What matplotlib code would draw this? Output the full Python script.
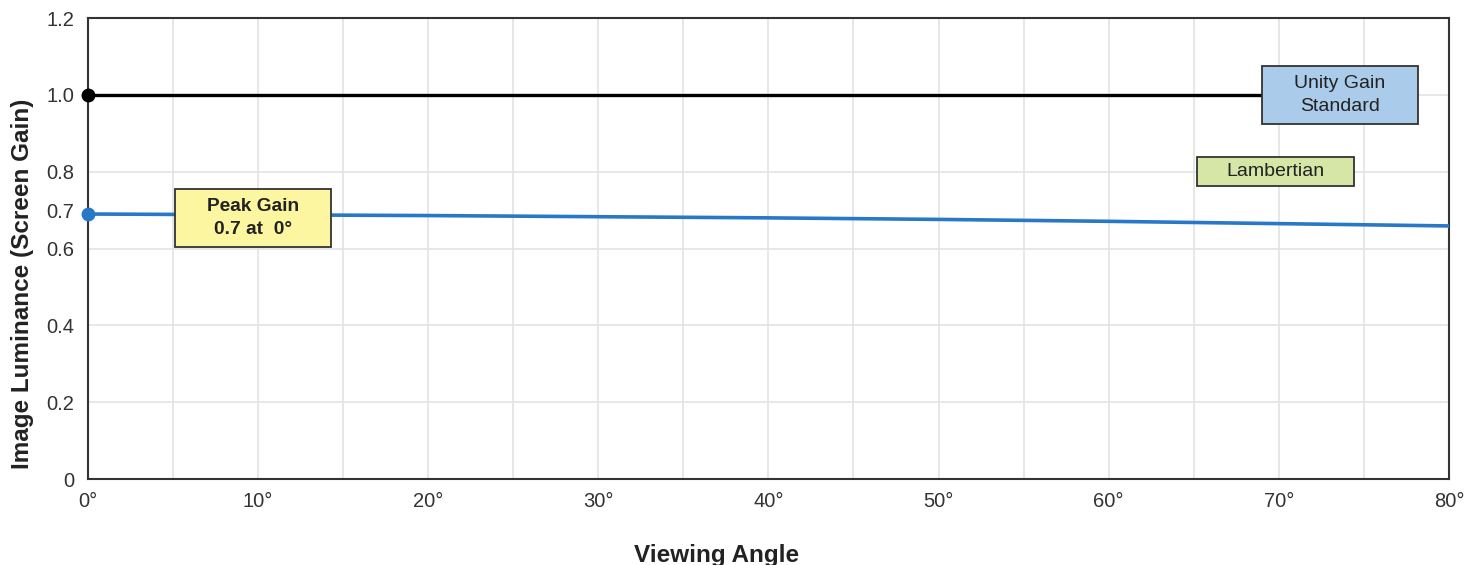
import matplotlib

matplotlib.use("Agg")

import matplotlib.pyplot as plt
from matplotlib.patches import Rectangle

plt.rcParams["font.family"] = ["Liberation Sans", "DejaVu Sans"]

# screen gain curve (degrees -> gain)
angles = [0, 10, 20, 30, 40, 50, 60, 70, 80]
gain = [0.690, 0.688, 0.686, 0.683, 0.680, 0.676, 0.671, 0.665, 0.659]

unity_angles = [0, 75]
unity_gain = [1.0, 1.0]

x_ticks = [0, 10, 20, 30, 40, 50, 60, 70, 80]
x_tick_labels = ["0°", "10°", "20°", "30°", "40°", "50°", "60°", "70°", "80°"]
y_ticks = [0, 0.2, 0.4, 0.6, 0.7, 0.8, 1.0, 1.2]
y_tick_labels = ["0", "0.2", "0.4", "0.6", "0.7", "0.8", "1.0", "1.2"]
y_grid = [0.2, 0.4, 0.6, 0.8, 1.0]

# (centre x, centre y, width, height, text, colour, bold)
labels = [
    (73.6, 1.0, 9.2, 0.15, "Unity Gain\nStandard", "#abcbeb", False),
    (69.8, 0.80, 9.2, 0.075, "Lambertian", "#d5e6a6", False),
    (9.7, 0.68, 9.2, 0.15, "Peak Gain\n0.7 at  0°", "#fdf6a0", True),
]


def label_box(ax, cx, cy, w, h, text, color, bold):
    ax.add_patch(Rectangle((cx - w / 2, cy - h / 2), w, h, facecolor=color,
                           edgecolor="#333333", linewidth=1.3, zorder=5))
    ax.text(cx, cy, text, ha="center", va="center", fontsize=14 if not bold else 13.8,
            fontweight="bold" if bold else "normal", color="#222222",
            linespacing=1.45, zorder=6)


def main() -> None:
    fig = plt.figure(figsize=(14.83, 5.65), dpi=100)
    ax = fig.add_axes([0.0593, 0.152, 0.9177, 0.816])

    for x in range(5, 80, 5):
        ax.axvline(x, color="#e3e3e3", linewidth=1.2, zorder=0)
    for y in y_grid:
        ax.axhline(y, color="#e3e3e3", linewidth=1.2, zorder=0)

    ax.plot(unity_angles, unity_gain, color="black", linewidth=2.4, zorder=3)
    ax.plot(angles, gain, color="#2878c8", linewidth=2.6, zorder=3)
    ax.plot([0], [unity_gain[0]], "o", color="black", markersize=9, clip_on=False, zorder=7)
    ax.plot([0], [gain[0]], "o", color="#2878c8", markersize=9, clip_on=False, zorder=7)

    for cx, cy, w, h, text, color, bold in labels:
        label_box(ax, cx, cy, w, h, text, color, bold)

    ax.set_xlim(0, 80)
    ax.set_ylim(0, 1.2)
    ax.set_xticks(x_ticks)
    ax.set_xticklabels(x_tick_labels)
    ax.set_yticks(y_ticks)
    ax.set_yticklabels(y_tick_labels)
    ax.tick_params(length=0, labelsize=14.5, labelcolor="#333333", pad=10)
    ax.tick_params(axis="x", pad=9)

    for spine in ax.spines.values():
        spine.set_color("#333333")
        spine.set_linewidth(1.5)

    ax.set_xlabel("Viewing Angle", fontsize=17.5, fontweight="bold", color="#222222")
    ax.xaxis.set_label_coords(0.4617, -0.140)
    ax.set_ylabel("Image Luminance (Screen Gain)", fontsize=17.5, fontweight="bold", color="#222222")
    ax.yaxis.set_label_coords(-0.040, 0.423)

    fig.savefig("out.png", dpi=100)
    plt.close(fig)


if __name__ == "__main__":
    main()
